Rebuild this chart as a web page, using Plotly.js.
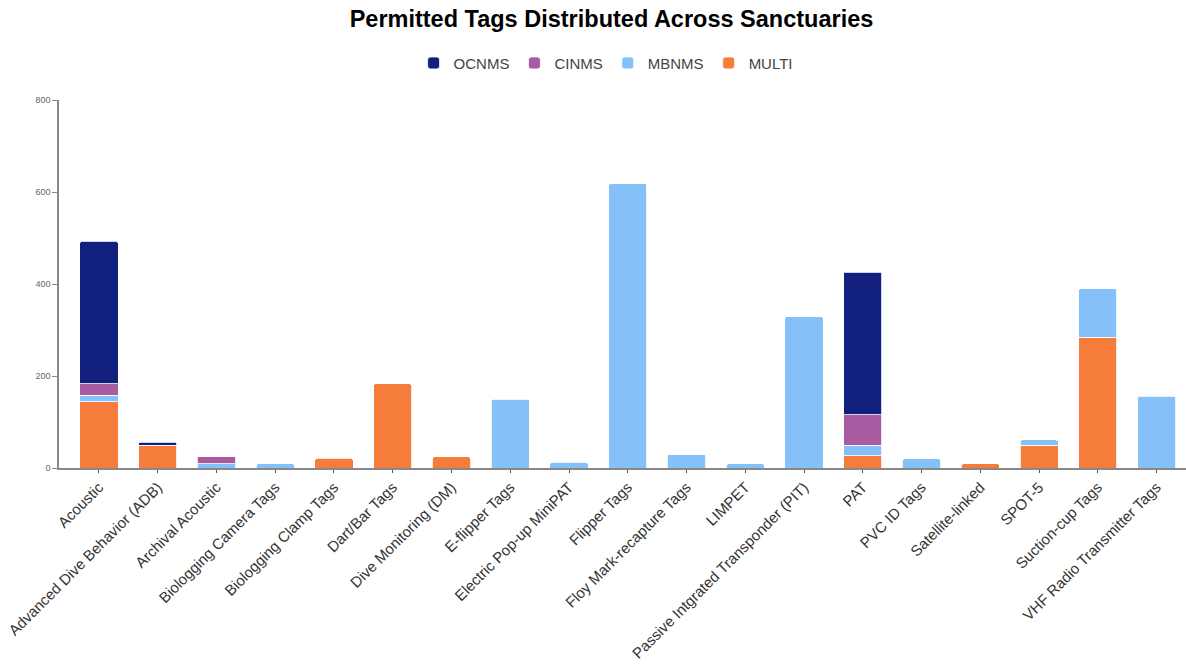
<!DOCTYPE html>
<html>
<head>
<meta charset="utf-8">
<script src="https://cdn.plot.ly/plotly-3.0.1.min.js"></script>
<style>html,body{margin:0;padding:0;background:#fff;}#chart{width:1186px;height:666px;}</style>
</head>
<body>
<div id="chart"></div>
<script>
const categories = [
  "Acoustic",
  "Advanced Dive Behavior (ADB)",
  "Archival Acoustic",
  "Biologging Camera Tags",
  "Biologging Clamp Tags",
  "Dart/Bar Tags",
  "Dive Monitoring (DM)",
  "E-flipper Tags",
  "Electric Pop-up MiniPAT",
  "Flipper Tags",
  "Floy Mark-recapture Tags",
  "LIMPET",
  "Passive Intgrated Transponder (PIT)",
  "PAT",
  "PVC ID Tags",
  "Satellite-linked",
  "SPOT-5",
  "Suction-cup Tags",
  "VHF Radio Transmitter Tags"
];
const multi = [144, 50, null, null, 21, 183, 24, null, null, null, null, null, null, 27, null, 9, 50, 284, null];
const mbnms = [14, null, 9, 9, null, null, null, 149, 12, 618, 29, 9, 329, 22, 20, null, 11, 106, 156];
const cinms = [25, null, 16, null, null, null, null, null, null, null, null, null, null, 67, null, null, null, null, null];
const ocnms = [310, 6, null, null, null, null, null, null, null, null, null, null, null, 310, null, null, null, null, null];
const yTicks = [0, 200, 400, 600, 800];

const seriesNames = ["MULTI", "MBNMS", "CINMS", "OCNMS"];
const seriesColors = ["#F57C3B", "#86C0F8", "#A75BA0", "#111F7E"];
const seriesValues = [multi, mbnms, cinms, ocnms];

const traces = seriesNames.map((name, i) => ({
  type: "bar",
  name: name,
  x: categories,
  y: seriesValues[i],
  marker: { color: seriesColors[i], line: { color: "rgba(255,255,255,0.8)", width: 1 }, cornerradius: 2 },
  hoverinfo: "x+y+name"
}));

const layout = {
  width: 1186,
  height: 666,
  barmode: "stack",
  bargap: 0.35,
  paper_bgcolor: "#fff",
  plot_bgcolor: "#fff",
  margin: { l: 59, r: 0, t: 100, b: 198 },
  font: { family: "Liberation Sans, Arial, sans-serif", color: "#444" },
  title: {
    text: "<b>Permitted Tags Distributed Across Sanctuaries</b>",
    font: { size: 23.5, color: "#000", family: "Liberation Sans, Arial, sans-serif" },
    x: 0.5156, xanchor: "center", y: 0.972, yanchor: "middle"
  },
  showlegend: true,
  legend: {
    orientation: "h",
    x: 0.485, xanchor: "center",
    y: 1.1, yanchor: "middle",
    traceorder: "reversed",
    font: { size: 15, color: "#444" },
    itemclick: false
  },
  xaxis: {
    type: "category",
    range: [-0.68, 18.5],
    tickangle: -45,
    tickfont: { size: 15, color: "#333" },
    showline: true,
    linecolor: "#888",
    linewidth: 1.5,
    ticks: "outside",
    ticklen: 3,
    tickcolor: "#555",
    showgrid: false,
    zeroline: false,
    automargin: false,
    fixedrange: true
  },
  yaxis: {
    range: [0, 800],
    tickvals: yTicks,
    ticktext: yTicks.map(String),
    tickfont: { size: 9, color: "#666" },
    showline: true,
    linecolor: "#888",
    linewidth: 1.5,
    ticks: "outside",
    ticklen: 5,
    tickcolor: "#888",
    showgrid: false,
    zeroline: false,
    automargin: false,
    fixedrange: true
  }
};

Plotly.newPlot("chart", traces, layout, { displayModeBar: false, staticPlot: false });
</script>
</body>
</html>
